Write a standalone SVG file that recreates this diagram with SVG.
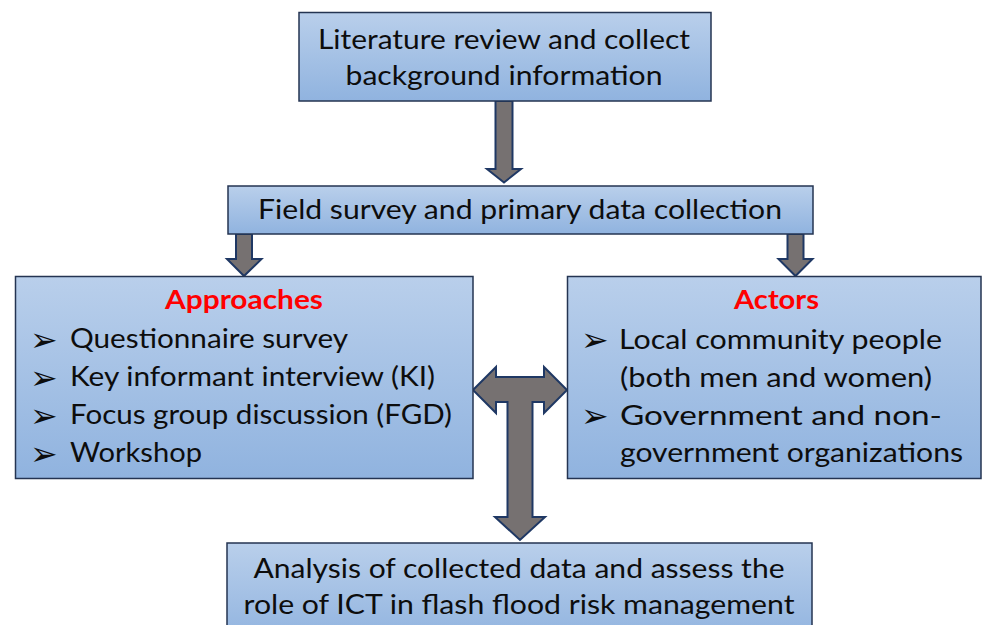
<svg xmlns="http://www.w3.org/2000/svg" width="982" height="625" viewBox="0 0 982 625">
  <defs>
    <linearGradient id="boxFill" x1="0" y1="0" x2="0" y2="1">
      <stop offset="0" stop-color="#b9cfeb"/>
      <stop offset="1" stop-color="#90b3df"/>
    </linearGradient>
    <style>
      .box { fill: url(#boxFill); stroke: #243452; stroke-width: 1.5; }
      .arrow { fill: #767171; stroke: #1f3864; stroke-width: 2; stroke-linejoin: miter; }
      .t { font-family: Lato, "Open Sans", "Liberation Sans", sans-serif; font-size: 27px; fill: #0d0d0d; }
      .title { font-family: Lato, "Open Sans", "Liberation Sans", sans-serif; font-size: 26px; font-weight: bold; fill: #ff0000; text-anchor: middle; }
      .bul { font-family: "DejaVu Sans", sans-serif; font-size: 33px; fill: #0d0d0d; }
    </style>
  </defs>
  <rect width="982" height="625" fill="#ffffff"/>

  <!-- connectors -->
  <g id="connectors">
    <path class="arrow" d="M495.5,101 L512.5,101 L512.5,169 L521,169 L504,182.5 L487,169 L495.5,169 Z"/>
    <path class="arrow" d="M236,234 L252,234 L252,259 L261.5,259 L244,276 L227,259 L236,259 Z"/>
    <path class="arrow" d="M787.5,234 L803.5,234 L803.5,259 L812.5,259 L795.5,276 L778.5,259 L787.5,259 Z"/>
    <path class="arrow" d="M473,390 L496,367 L496,377 L544,377 L544,367 L567,390 L544,413 L544,402 L532.5,402 L532.5,517 L545,517 L520,540 L495,517 L507.5,517 L507.5,402 L496,402 L496,413 Z"/>
  </g>

  <g id="literature">
    <rect class="box" x="299" y="12.5" width="412" height="88.5"/>
    <text class="t" x="504" y="49" text-anchor="middle" textLength="372" lengthAdjust="spacingAndGlyphs">Literature review and collect</text>
    <text class="t" x="504" y="85" text-anchor="middle" textLength="317" lengthAdjust="spacingAndGlyphs">background information</text>
  </g>

  <g id="field-survey">
    <rect class="box" x="228" y="186" width="585" height="48"/>
    <text class="t" x="520" y="219" text-anchor="middle" textLength="524" lengthAdjust="spacingAndGlyphs">Field survey and primary data collection</text>
  </g>

  <g id="approaches">
    <rect class="box" x="15.5" y="276.5" width="457.5" height="202"/>
    <text class="title" x="244" y="309" textLength="158" lengthAdjust="spacingAndGlyphs">Approaches</text>
    <text class="bul" x="30" y="351">➢</text>
    <text class="t" x="70" y="348" textLength="278" lengthAdjust="spacingAndGlyphs">Questionnaire survey</text>
    <text class="bul" x="30" y="389">➢</text>
    <text class="t" x="70" y="386" textLength="365" lengthAdjust="spacingAndGlyphs">Key informant interview (KI)</text>
    <text class="bul" x="30" y="427">➢</text>
    <text class="t" x="70" y="424" textLength="382" lengthAdjust="spacingAndGlyphs">Focus group discussion (FGD)</text>
    <text class="bul" x="30" y="465">➢</text>
    <text class="t" x="70" y="462" textLength="132" lengthAdjust="spacingAndGlyphs">Workshop</text>
  </g>

  <g id="actors">
    <rect class="box" x="567.5" y="276.5" width="413.5" height="202"/>
    <text class="title" x="776.5" y="309" textLength="85" lengthAdjust="spacingAndGlyphs">Actors</text>
    <text class="bul" x="581" y="351">➢</text>
    <text class="t" x="619" y="349" textLength="323" lengthAdjust="spacingAndGlyphs">Local community people</text>
    <text class="t" x="620" y="387" textLength="312" lengthAdjust="spacingAndGlyphs">(both men and women)</text>
    <text class="bul" x="581" y="427">➢</text>
    <text class="t" x="620" y="425" textLength="322" lengthAdjust="spacingAndGlyphs">Government and non-</text>
    <text class="t" x="620" y="462" textLength="343" lengthAdjust="spacingAndGlyphs">government organizations</text>
  </g>

  <g id="analysis">
    <rect class="box" x="227" y="543" width="585" height="100"/>
    <text class="t" x="519" y="578" text-anchor="middle" textLength="531" lengthAdjust="spacingAndGlyphs">Analysis of collected data and assess the</text>
    <text class="t" x="519" y="614" text-anchor="middle" textLength="551" lengthAdjust="spacingAndGlyphs">role of ICT in flash flood risk management</text>
  </g>
</svg>
